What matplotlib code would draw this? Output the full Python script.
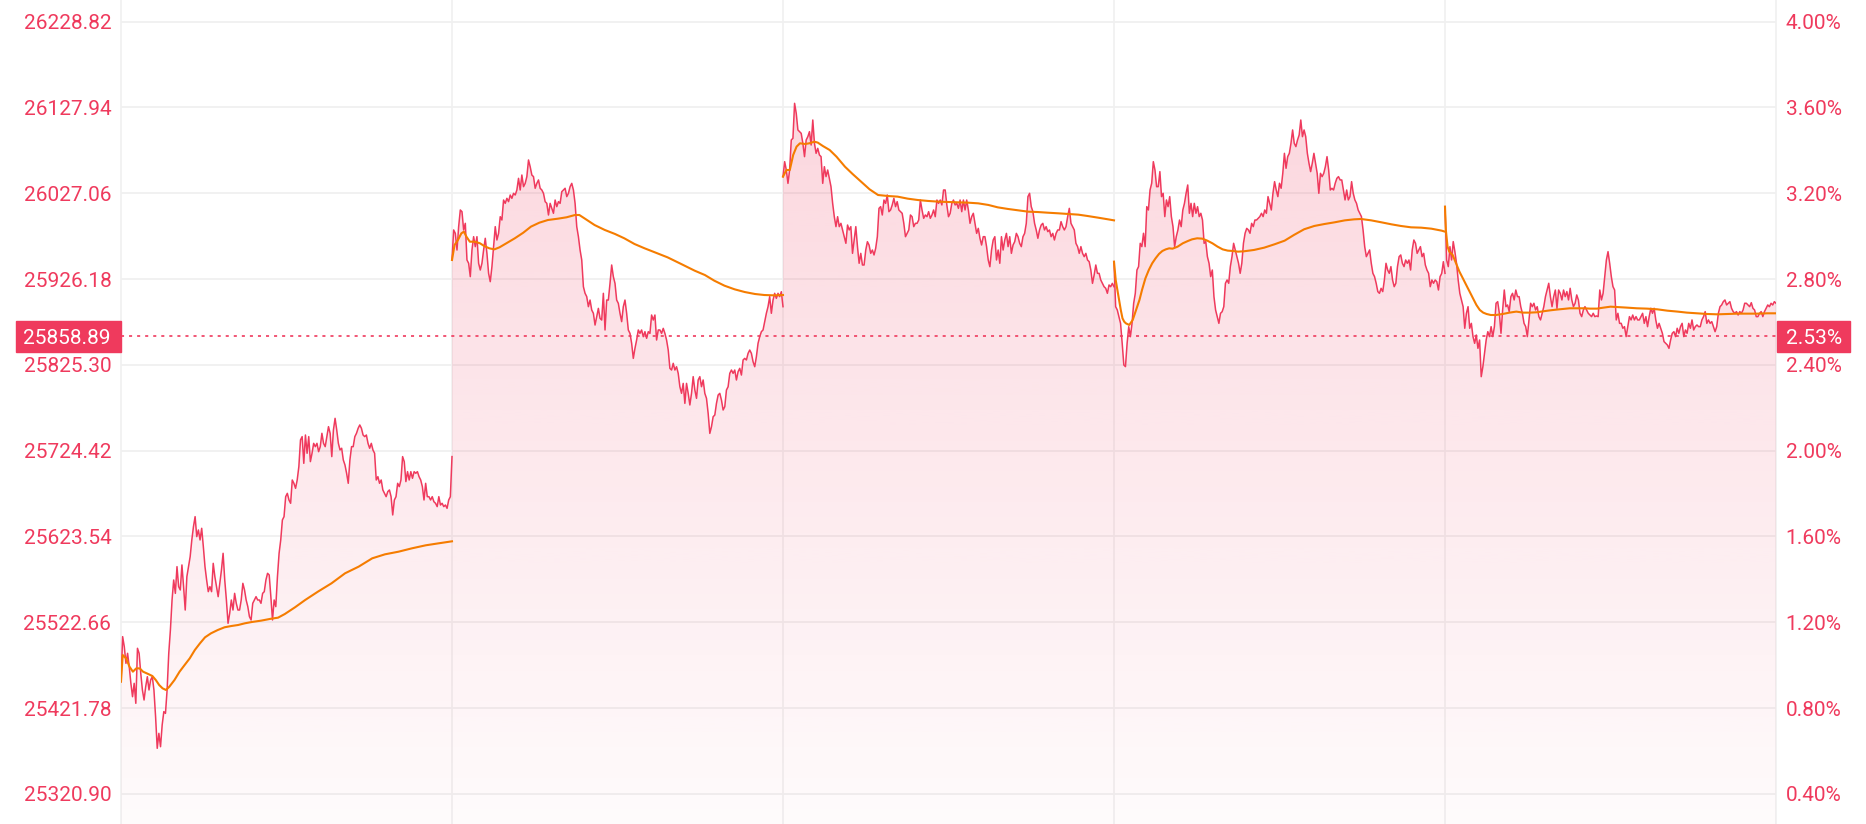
import numpy as np
import matplotlib.pyplot as plt
from matplotlib.colors import to_rgb
from matplotlib.patches import Rectangle
from matplotlib.transforms import blended_transform_factory

plt.rcParams['font.family'] = ['Roboto', 'DejaVu Sans']
plt.rcParams['lines.scale_dashes'] = False

RED = '#ef3a5d'
ORANGE = '#f57c00'
GRID = '#f0f0f0'

SESSION = 390  # minutes in one trading day

price_ticks = [25320.90, 25421.78, 25522.66, 25623.54, 25724.42,
               25825.30, 25926.18, 26027.06, 26127.94, 26228.82]
pct_ticks = [0.40, 0.80, 1.20, 1.60, 2.00, 2.40, 2.80, 3.20, 3.60, 4.00]
last_price = 25858.89
last_pct = 2.53

# intraday prices, one list per day
day1 = [25452.8, 25505.7, 25493.9, 25474.3, 25486.1, 25470.4, 25450.8, 25435.1, 25450.8, 25427.3,
        25492.0, 25486.1, 25462.6, 25443.0, 25431.2, 25446.9, 25458.6, 25443.0, 25454.7, 25458.6,
        25443.0, 25411.6, 25374.4, 25392.0, 25376.3, 25401.8, 25417.5, 25415.5, 25443.0, 25486.1,
        25513.5, 25548.8, 25572.3, 25556.6, 25588.0, 25564.5, 25560.6, 25590.0, 25564.5, 25537.0,
        25576.2, 25588.0, 25599.8, 25619.4, 25635.0, 25646.8, 25623.3, 25631.1, 25619.4, 25633.1,
        25611.5, 25588.0, 25572.3, 25558.6, 25564.5, 25558.6, 25591.9, 25576.2, 25564.5, 25552.7,
        25568.4, 25584.1, 25603.7, 25572.3, 25548.8, 25521.4, 25533.1, 25548.8, 25537.0, 25556.6,
        25544.9, 25537.0, 25537.0, 25548.8, 25568.4, 25560.6, 25548.8, 25541.0, 25529.2, 25525.3,
        25544.9, 25548.8, 25552.7, 25548.8, 25548.8, 25544.9, 25556.6, 25558.6, 25572.3, 25580.2,
        25578.2, 25552.7, 25525.3, 25548.8, 25541.0, 25576.2, 25603.7, 25619.4, 25642.9, 25646.8,
        25670.3, 25674.2, 25666.4, 25662.5, 25689.9, 25686.0, 25680.1, 25689.9, 25705.6, 25737.0,
        25740.9, 25709.5, 25742.8, 25721.3, 25740.9, 25711.5, 25721.3, 25733.0, 25729.1, 25733.0,
        25723.2, 25729.1, 25744.8, 25733.0, 25729.1, 25740.9, 25752.6, 25744.8, 25717.4, 25748.7,
        25762.4, 25748.7, 25733.0, 25725.2, 25727.2, 25713.4, 25707.6, 25697.8, 25686.0, 25713.4,
        25729.1, 25729.1, 25740.9, 25744.8, 25750.7, 25754.6, 25750.7, 25742.8, 25740.9, 25742.8,
        25733.0, 25727.2, 25733.0, 25725.2, 25721.3, 25689.9, 25693.8, 25686.0, 25689.9, 25678.2,
        25674.2, 25670.3, 25676.2, 25678.2, 25670.3, 25648.8, 25666.4, 25670.3, 25686.0, 25682.1,
        25689.9, 25717.4, 25711.5, 25688.0, 25699.7, 25689.9, 25699.7, 25691.9, 25699.7, 25697.8,
        25699.7, 25693.8, 25689.9, 25682.1, 25666.4, 25686.0, 25670.3, 25670.3, 25666.4, 25670.3,
        25664.4, 25662.5, 25658.6, 25670.3, 25660.5, 25662.5, 25658.6, 25660.5, 25656.6, 25666.4,
        25670.3, 25717.4]
day2 = [25948.6, 25983.9, 25979.9, 25960.3, 25987.8, 26007.4, 26005.4, 25983.9, 25991.7, 25948.6,
        25944.7, 25929.0, 25960.3, 25976.0, 25964.3, 25976.0, 25944.7, 25936.8, 25944.7, 25960.3,
        25974.1, 25956.4, 25932.9, 25923.1, 25940.7, 25964.3, 25987.8, 25972.1, 25979.9, 25999.5,
        25995.6, 26019.1, 26015.2, 26021.1, 26017.2, 26025.0, 26021.1, 26027.0, 26025.0, 26030.9,
        26044.6, 26030.9, 26048.5, 26034.8, 26038.7, 26046.6, 26066.2, 26058.3, 26048.5, 26046.6,
        26032.9, 26038.7, 26042.7, 26032.9, 26030.9, 26027.0, 26017.2, 26015.2, 26001.5, 26015.2,
        26009.3, 26003.5, 26019.1, 26011.3, 26017.2, 26015.2, 26028.9, 26030.9, 26032.9, 26023.1,
        26027.0, 26034.8, 26038.7, 26030.9, 26015.2, 25987.8, 25976.0, 25960.3, 25948.6, 25917.2,
        25909.4, 25905.5, 25893.7, 25901.5, 25889.8, 25885.9, 25872.1, 25881.9, 25891.7, 25880.0,
        25878.0, 25909.4, 25866.3, 25901.5, 25901.5, 25921.1, 25942.7, 25929.0, 25921.1, 25901.5,
        25897.6, 25885.9, 25876.1, 25893.7, 25901.5, 25885.9, 25866.3, 25862.3, 25850.6, 25832.9,
        25844.7, 25854.5, 25866.3, 25862.3, 25866.3, 25858.4, 25864.3, 25856.5, 25864.3, 25862.3,
        25883.9, 25878.0, 25883.9, 25854.5, 25866.3, 25866.3, 25862.3, 25868.2, 25862.3, 25854.5,
        25842.7, 25821.2, 25819.2, 25827.1, 25819.2, 25823.1, 25815.3, 25799.6, 25791.8, 25803.5,
        25780.0, 25803.5, 25791.8, 25778.1, 25791.8, 25811.4, 25795.7, 25785.9, 25807.5, 25811.4,
        25799.6, 25807.5, 25791.8, 25785.9, 25768.3, 25744.7, 25752.6, 25764.3, 25766.3, 25780.0,
        25789.8, 25791.8, 25783.9, 25772.2, 25776.1, 25795.7, 25799.6, 25815.3, 25819.2, 25815.3,
        25819.2, 25807.5, 25817.3, 25821.2, 25813.3, 25831.0, 25832.9, 25831.0, 25838.8, 25842.7,
        25838.8, 25829.0, 25823.1, 25834.9, 25850.6, 25858.4, 25864.3, 25866.3, 25876.1, 25885.9,
        25893.7, 25905.5, 25885.9, 25901.5, 25909.4, 25903.5, 25909.4, 25905.5, 25911.3, 25893.7]
day3 = [26046.6, 26064.2, 26054.4, 26038.7, 26054.4, 26089.7, 26091.7, 26132.8, 26121.1, 26101.5,
        26099.5, 26097.5, 26085.8, 26070.1, 26089.7, 26093.6, 26099.5, 26083.8, 26113.2, 26085.8,
        26074.0, 26079.9, 26072.1, 26070.1, 26038.7, 26058.3, 26046.6, 26054.4, 26044.6, 26034.8,
        26015.2, 25999.5, 25987.8, 25999.5, 25987.8, 25991.7, 25983.9, 25976.0, 25968.2, 25989.7,
        25983.9, 25987.8, 25956.4, 25972.1, 25987.8, 25964.3, 25944.7, 25956.4, 25942.7, 25942.7,
        25960.3, 25970.1, 25966.2, 25956.4, 25960.3, 25954.5, 25962.3, 25976.0, 26009.3, 26011.3,
        26001.5, 26019.1, 26015.2, 26025.0, 26005.4, 26007.4, 26013.3, 26021.1, 26011.3, 26017.2,
        26007.4, 26005.4, 26003.5, 25991.7, 25976.0, 25979.9, 25983.9, 26001.5, 25999.5, 25987.8,
        25991.7, 25991.7, 25995.6, 26019.1, 26007.4, 25997.6, 26001.5, 25999.5, 26005.4, 25997.6,
        26001.5, 26007.4, 25999.5, 26019.1, 26015.2, 26019.1, 26013.3, 26030.9, 26030.9, 26013.3,
        25999.5, 26003.5, 26015.2, 26019.1, 26013.3, 26015.2, 26009.3, 26019.1, 26005.4, 26019.1,
        26007.4, 26019.1, 26007.4, 25991.7, 25999.5, 26003.5, 25991.7, 25979.9, 25985.8, 25974.1,
        25966.2, 25976.0, 25976.0, 25964.3, 25948.6, 25940.7, 25960.3, 25972.1, 25976.0, 25948.6,
        25960.3, 25944.7, 25976.0, 25960.3, 25972.1, 25979.9, 25964.3, 25976.0, 25956.4, 25966.2,
        25970.1, 25979.9, 25976.0, 25968.2, 25964.3, 25976.0, 25979.9, 25991.7, 26023.1, 26027.0,
        26011.3, 26005.4, 25991.7, 25983.9, 25974.1, 25983.9, 25989.7, 25991.7, 25983.9, 25987.8,
        25981.9, 25983.9, 25976.0, 25979.9, 25972.1, 25979.9, 25983.9, 25983.9, 25993.7, 25987.8,
        25983.9, 25987.8, 25999.5, 26009.3, 25991.7, 25987.8, 25983.9, 25968.2, 25964.3, 25956.4,
        25964.3, 25956.4, 25952.5, 25956.4, 25948.6, 25946.6, 25936.8, 25921.1, 25930.9, 25942.7,
        25932.9, 25932.9, 25925.1, 25921.1, 25917.2, 25915.3, 25909.4, 25919.2, 25917.2, 25921.1,
        25917.2]
day4 = [25946.6, 25893.7, 25889.8, 25882.0, 25874.1, 25850.6, 25825.1, 25823.2, 25850.6, 25870.2,
        25858.4, 25874.1, 25897.6, 25909.4, 25936.8, 25940.8, 25968.2, 25964.3, 25980.0, 25964.3,
        26011.3, 26007.4, 26030.9, 26038.8, 26064.2, 26054.4, 26034.8, 26034.8, 26052.5, 26023.1,
        26027.0, 25999.6, 26019.2, 26011.3, 26023.1, 25999.6, 25987.8, 25964.3, 25976.0, 25983.9,
        25995.6, 25987.8, 26007.4, 26015.2, 26027.0, 26036.8, 26003.5, 26015.2, 25999.6, 26015.2,
        26003.5, 26011.3, 25999.6, 26003.5, 25995.6, 25968.2, 25970.2, 25952.5, 25944.7, 25929.0,
        25936.8, 25905.5, 25889.8, 25882.0, 25874.1, 25885.9, 25887.8, 25893.7, 25921.2, 25925.1,
        25921.2, 25940.8, 25952.5, 25968.2, 25960.4, 25952.5, 25944.7, 25932.9, 25944.7, 25968.2,
        25980.0, 25985.8, 25983.9, 25980.0, 25991.7, 25987.8, 25995.6, 25995.6, 25997.6, 25999.6,
        26003.5, 25999.6, 26007.4, 26003.5, 26023.1, 26015.2, 26007.4, 26027.0, 26040.7, 26030.9,
        26023.1, 26038.8, 26032.9, 26050.5, 26074.0, 26056.4, 26070.1, 26074.0, 26085.8, 26101.5,
        26085.8, 26081.9, 26089.7, 26095.6, 26113.2, 26093.6, 26101.5, 26093.6, 26074.0, 26062.3,
        26052.5, 26062.3, 26074.0, 26062.3, 26050.5, 26027.0, 26050.5, 26046.6, 26050.5, 26058.4,
        26070.1, 26054.4, 26030.9, 26032.9, 26030.9, 26038.8, 26044.6, 26046.6, 26042.7, 26042.7,
        26030.9, 26019.2, 26030.9, 26019.2, 26023.1, 26040.7, 26027.0, 26019.2, 26015.2, 26007.4,
        26003.5, 25999.6, 25983.9, 25964.3, 25952.5, 25956.4, 25960.4, 25944.7, 25932.9, 25929.0,
        25921.2, 25911.4, 25909.4, 25915.3, 25911.4, 25925.1, 25944.7, 25936.8, 25932.9, 25940.8,
        25925.1, 25917.2, 25921.2, 25940.8, 25952.5, 25954.5, 25944.7, 25940.8, 25948.6, 25944.7,
        25948.6, 25936.8, 25960.4, 25972.1, 25968.2, 25956.4, 25960.4, 25964.3, 25952.5, 25956.4,
        25942.7, 25936.8, 25932.9, 25917.2, 25925.1, 25921.2, 25925.1, 25923.1, 25913.3, 25929.0,
        25932.9, 25946.6, 25932.9]
day5 = [26011.3, 25948.6, 25940.8, 25964.3, 25948.6, 25970.2, 25958.4, 25944.7, 25925.1, 25909.4,
        25901.6, 25893.7, 25868.3, 25885.9, 25893.7, 25868.3, 25874.1, 25858.5, 25850.6, 25860.4,
        25844.7, 25854.5, 25811.4, 25823.2, 25838.9, 25854.5, 25864.3, 25858.5, 25870.2, 25858.5,
        25870.2, 25897.7, 25899.6, 25885.9, 25862.4, 25889.8, 25913.3, 25893.7, 25895.7, 25887.9,
        25905.5, 25909.4, 25901.6, 25913.3, 25905.5, 25905.5, 25893.7, 25885.9, 25874.1, 25870.2,
        25858.5, 25878.1, 25897.7, 25893.7, 25897.7, 25889.8, 25893.7, 25882.0, 25878.1, 25885.9,
        25893.7, 25905.5, 25913.3, 25921.2, 25905.5, 25893.7, 25905.5, 25913.3, 25891.8, 25913.3,
        25909.4, 25901.6, 25913.3, 25905.5, 25911.4, 25901.6, 25915.3, 25901.6, 25893.7, 25897.7,
        25907.5, 25901.6, 25885.9, 25882.0, 25889.8, 25893.7, 25889.8, 25885.9, 25883.9, 25882.0,
        25885.9, 25882.0, 25882.8, 25882.0, 25913.3, 25901.6, 25909.4, 25929.0, 25948.6, 25958.4,
        25944.7, 25929.0, 25917.3, 25913.3, 25878.1, 25885.9, 25874.1, 25874.1, 25868.3, 25870.2,
        25858.5, 25870.2, 25882.0, 25878.1, 25883.9, 25878.1, 25882.0, 25878.1, 25878.1, 25882.0,
        25885.9, 25874.1, 25882.0, 25870.2, 25882.0, 25891.8, 25885.9, 25891.8, 25878.1, 25868.3,
        25874.1, 25868.3, 25862.4, 25852.6, 25850.6, 25848.7, 25844.7, 25854.5, 25862.4, 25864.3,
        25858.5, 25868.3, 25862.4, 25870.2, 25874.1, 25858.5, 25866.3, 25862.4, 25874.1, 25868.3,
        25878.1, 25866.3, 25870.2, 25872.2, 25870.2, 25870.2, 25878.1, 25882.0, 25887.9, 25874.1,
        25878.1, 25874.1, 25876.1, 25870.2, 25864.3, 25870.2, 25885.9, 25893.7, 25895.7, 25899.6,
        25901.6, 25895.7, 25897.7, 25899.6, 25891.8, 25887.9, 25885.9, 25887.9, 25883.9, 25887.9,
        25885.9, 25889.8, 25897.7, 25897.7, 25895.7, 25893.7, 25898.4, 25891.8, 25889.8, 25882.0,
        25882.0, 25885.9, 25887.9, 25882.0, 25887.9, 25891.8, 25895.7, 25893.7, 25897.7, 25895.7,
        25899.6, 25897.7]

# average price line: minute of session and value
avg1_min = [0, 2, 6, 10, 14, 18, 22, 26, 32, 37, 41, 45, 49, 53, 57, 63, 69, 75, 81, 87, 93, 99, 106,
            114, 122, 130, 138, 146, 154, 165, 177, 185, 193, 205, 217, 232, 248, 264, 280, 296, 311,
            327, 343, 359, 374, 390]
avg1 = [25452.8, 25484.1, 25480.2, 25470.4, 25464.5, 25468.4, 25468.4, 25464.5, 25461.8, 25459.4,
        25454.7, 25448.8, 25444.9, 25443.0, 25446.9, 25454.7, 25464.5, 25472.4, 25480.2, 25490.0,
        25497.8, 25504.9, 25509.6, 25513.5, 25516.7, 25518.2, 25519.4, 25521.4, 25522.9, 25524.5,
        25526.8, 25528.0, 25532.3, 25540.2, 25548.8, 25558.6, 25568.4, 25580.2, 25588.0, 25597.8,
        25602.5, 25605.6, 25609.6, 25613.1, 25615.4, 25617.8]
avg2_min = [0, 3, 7, 11, 14, 17, 21, 27, 33, 38, 44, 50, 56, 64, 74, 84, 93, 103, 113, 125, 135, 145,
            150, 156, 168, 180, 192, 203, 215, 227, 239, 254, 270, 286, 298, 309, 321, 333, 345, 357,
            368, 380, 390]
avg2 = [25948.6, 25966.2, 25972.1, 25979.9, 25981.9, 25976.0, 25970.1, 25970.1, 25968.2, 25965.0,
        25962.3, 25961.1, 25963.5, 25968.2, 25974.1, 25980.7, 25987.8, 25992.5, 25995.6, 25997.2,
        25998.8, 26001.5, 26001.5, 25997.6, 25989.7, 25983.9, 25979.2, 25974.1, 25967.4, 25962.3,
        25957.6, 25951.7, 25943.9, 25936.0, 25930.9, 25924.3, 25918.4, 25914.1, 25910.9, 25908.6,
        25907.4, 25907.0, 25907.4]
avg3_min = [0, 4, 8, 12, 16, 20, 26, 31, 37, 41, 47, 55, 63, 73, 82, 92, 102, 112, 124, 135, 147,
            159, 171, 183, 194, 206, 218, 230, 242, 253, 265, 277, 289, 300, 312, 324, 336, 348, 359,
            371, 383, 390]
avg3 = [26046.6, 26054.4, 26054.4, 26072.1, 26081.9, 26085.8, 26085.0, 26085.8, 26087.7, 26086.6,
        26082.6, 26077.9, 26070.1, 26058.3, 26049.7, 26040.7, 26031.7, 26025.0, 26023.8, 26023.1,
        26020.7, 26019.1, 26018.0, 26017.2, 26016.8, 26016.4, 26016.0, 26015.2, 26013.3, 26010.5,
        26008.6, 26007.0, 26005.4, 26005.0, 26004.2, 26003.5, 26002.7, 26001.9, 26000.3, 25998.4,
        25996.4, 25995.2]
avg4_min = [0, 2, 4, 6, 8, 10, 12, 14, 18, 22, 26, 30, 33, 37, 41, 45, 49, 53, 57, 61, 65, 69, 75,
            81, 87, 92, 98, 104, 110, 116, 122, 128, 134, 140, 146, 153, 165, 177, 189, 201, 212, 224,
            236, 248, 260, 272, 283, 291, 303, 315, 327, 338, 350, 362, 374, 386, 390]
avg4 = [25946.6, 25925.1, 25913.3, 25901.6, 25889.8, 25880.0, 25876.1, 25874.1, 25872.2, 25878.0,
        25889.8, 25901.6, 25913.3, 25927.0, 25936.8, 25944.7, 25950.6, 25955.7, 25959.2, 25961.1,
        25962.3, 25961.9, 25964.3, 25968.2, 25970.9, 25972.9, 25974.1, 25973.7, 25971.3, 25968.2,
        25964.3, 25961.1, 25959.6, 25959.2, 25958.4, 25958.8, 25960.4, 25963.1, 25967.0, 25971.3,
        25978.0, 25984.7, 25988.6, 25990.9, 25992.9, 25995.2, 25996.4, 25996.8, 25995.2, 25992.9,
        25990.5, 25988.6, 25987.0, 25986.6, 25985.4, 25983.1, 25981.9]
avg5_min = [0, 1, 3, 5, 9, 13, 17, 21, 25, 29, 33, 37, 41, 45, 49, 54, 60, 68, 76, 84, 92, 100, 108,
            116, 124, 131, 139, 147, 155, 163, 171, 179, 187, 195, 202, 214, 226, 238, 250, 262, 274,
            285, 297, 309, 321, 333, 345, 356, 368, 380, 390]
avg5 = [26011.3, 25983.9, 25964.3, 25958.4, 25954.5, 25944.7, 25934.9, 25927.1, 25919.2, 25911.4,
        25903.5, 25895.7, 25889.8, 25886.7, 25885.1, 25883.9, 25883.9, 25885.1, 25886.7, 25887.9,
        25886.7, 25886.7, 25887.1, 25888.3, 25889.4, 25890.2, 25891.0, 25891.8, 25891.8, 25891.8,
        25891.4, 25891.4, 25892.6, 25893.7, 25893.3, 25892.6, 25891.8, 25891.4, 25890.6, 25889.0,
        25887.9, 25886.7, 25885.9, 25885.1, 25884.7, 25885.1, 25885.5, 25885.5, 25885.5, 25885.9,
        25885.9]

days = [(day1, avg1_min, avg1), (day2, avg2_min, avg2), (day3, avg3_min, avg3),
        (day4, avg4_min, avg4), (day5, avg5_min, avg5)]

W, H = 1866, 824
fig = plt.figure(figsize=(W / 100, H / 100), dpi=100)
ax = fig.add_axes([121 / W, 0, 1655 / W, 1])

ylo, yhi = 25285.4, 26254.3
xmax = SESSION * len(days)

# vertical gradient, strongest at the top of the plot
grad = np.zeros((256, 1, 4))
grad[..., :3] = to_rgb(RED)
grad[..., 3] = np.linspace(0.02, 0.23, 256)[:, None]

for d, (prices, amin, avg) in enumerate(days):
    x0 = d * SESSION
    x = x0 + np.linspace(0, SESSION, len(prices))
    poly = ax.fill_between(x, prices, ylo, color='none', lw=0)
    im = ax.imshow(grad, extent=[0, xmax, ylo, yhi], origin='lower',
                   aspect='auto', interpolation='bilinear', zorder=1)
    im.set_clip_path(poly.get_paths()[0], transform=ax.transData)
    ax.plot(x, prices, color=RED, lw=1.1, zorder=3)
    ax.plot(x0 + np.array(amin), avg, color=ORANGE, lw=1.5, zorder=4)

for d in range(len(days) + 1):
    ax.axvline(d * SESSION, color=GRID, lw=1.2, zorder=0.5, clip_on=False)

ax.set_xlim(0, xmax)
ax.set_ylim(ylo, yhi)
ax.set_xticks([])
ax.set_yticks(price_ticks)
ax.set_yticklabels([f'{v:.2f}' for v in price_ticks])
ax.grid(axis='y', color=GRID, lw=1.3)
ax.set_axisbelow(True)
ax.tick_params(axis='y', length=0, pad=7, labelsize=15, labelcolor=RED)
for s in ax.spines.values():
    s.set_visible(False)

base = price_ticks[-1] / (1 + pct_ticks[-1] / 100)
ax2 = ax.twinx()
ax2.set_ylim((ylo / base - 1) * 100, (yhi / base - 1) * 100)
ax2.set_yticks(pct_ticks)
ax2.set_yticklabels([f'{v:.2f}%' for v in pct_ticks])
ax2.tick_params(axis='y', length=0, pad=7, labelsize=15, labelcolor=RED)
for s in ax2.spines.values():
    s.set_visible(False)

ax.axhline(last_price, color=RED, lw=1.2, ls=(0, (2.2, 3.6)), zorder=5)

trans = blended_transform_factory(fig.transFigure, ax.transData)
box_h = 31 * (yhi - ylo) / H
ax.add_patch(Rectangle((16 / W, last_price - box_h / 2), 105 / W, box_h, transform=trans,
                       color=RED, clip_on=False, zorder=6))
ax.text(111 / W, last_price, f'{last_price:.2f}', transform=trans, ha='right',
        va='center_baseline', color='white', fontsize=15, zorder=7)
ax.add_patch(Rectangle((1776.5 / W, last_price - box_h / 2), 73.5 / W, box_h, transform=trans,
                       color=RED, clip_on=False, zorder=6))
ax.text(1786 / W, last_price, f'{last_pct:.2f}%', transform=trans, ha='left',
        va='center_baseline', color='white', fontsize=15, zorder=7)

fig.savefig('out.png', dpi=100)
